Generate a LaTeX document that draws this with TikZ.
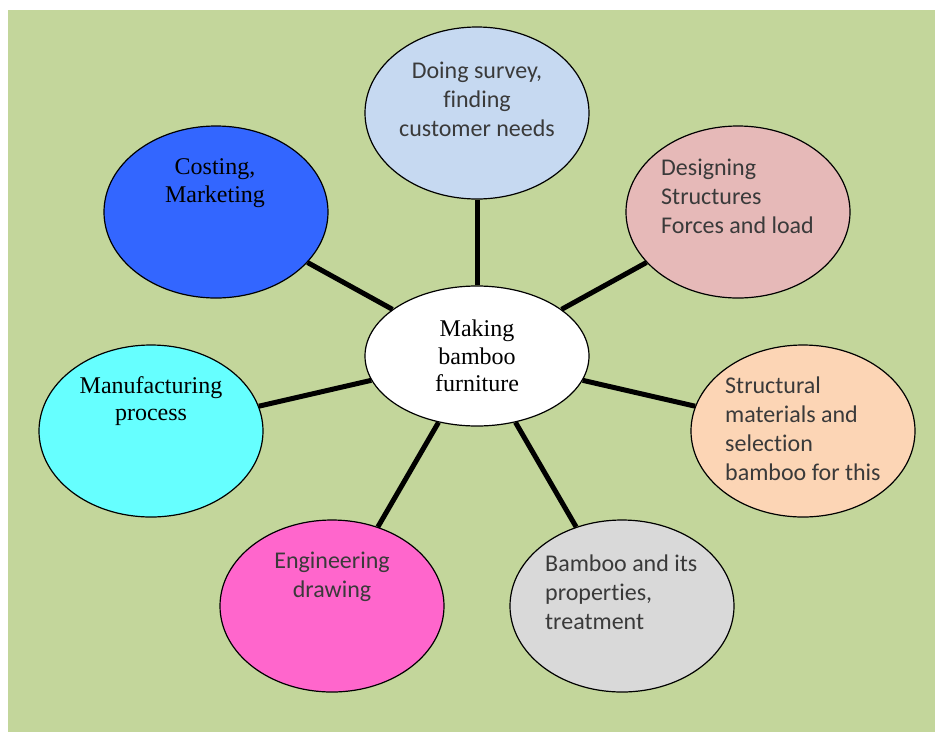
\documentclass[tikz,border=0pt]{standalone}
\usepackage{fontspec}
\setmainfont{Liberation Serif}
\newfontfamily\calibri[RawFeature=-liga]{Carlito}
\usetikzlibrary{shapes.geometric}
\definecolor{bg-green}{HTML}{C3D69B}
\definecolor{light-blue}{HTML}{C6D9F1}
\definecolor{deep-blue}{HTML}{3366FF}
\definecolor{rose}{HTML}{E6B9B8}
\definecolor{peach}{HTML}{FCD5B5}
\definecolor{light-gray}{HTML}{D9D9D9}
\definecolor{pink}{HTML}{FF66CC}
\definecolor{aqua}{HTML}{66FFFF}
\definecolor{text-gray}{HTML}{3A3A3A}

\begin{document}
\begin{tikzpicture}[x=1pt, y=-1pt,
	topic/.style={draw, ellipse, line width=1.2pt, minimum width=224pt, minimum height=172pt, inner sep=0pt},
	serif text/.style={align=center, inner sep=0pt, font=\fontsize{24}{27.5}\selectfont},
	sans text/.style={inner sep=0pt, text=text-gray, font=\calibri\fontsize{24}{29}\selectfont},
	link/.style={line width=5pt}]
	\useasboundingbox (0,0) rectangle (935,732);
	\fill[bg-green] (8,10) rectangle (935,732);
	
	\node (center) at (477,356) [topic, fill=white, minimum height=140pt] {};
	\node (survey) at (477,113) [topic, fill=light-blue] {};
	\node (costing) at (216,212) [topic, fill=deep-blue] {};
	\node (design) at (738,212) [topic, fill=rose] {};
	\node (manuf) at (151,431) [topic, fill=aqua] {};
	\node (struct) at (803,431) [topic, fill=peach] {};
	\node (engin) at (332,606) [topic, fill=pink] {};
	\node (bamboo) at (622,606) [topic, fill=light-gray] {};
	
	\node (center-t) at (477,356) [serif text] {Making\\bamboo\\furniture};
	\node (survey-t) at (477,99) [sans text, align=center] {Doing survey,\\finding\\customer needs};
	\node (costing-t) at (215,183) [serif text] {Costing,\\Marketing};
	\node (design-t) at (661,196) [sans text, align=left, anchor=west] {Designing\\Structures\\Forces and load};
	\node (manuf-t) at (151,401) [serif text] {Manufacturing\\process};
	\node (struct-t) at (725,429) [sans text, align=left, anchor=west] {Structural\\materials and\\selection\\bamboo for this};
	\node (engin-t) at (332,577) [sans text, align=center] {Engineering\\drawing};
	\node (bamboo-t) at (545,592) [sans text, align=left, anchor=west] {Bamboo and its\\properties,\\treatment};
	
	\draw[link] (center) -- (survey);
	\draw[link] (center) -- (costing);
	\draw[link] (center) -- (design);
	\draw[link] (center) -- (manuf);
	\draw[link] (center) -- (struct);
	\draw[link] (center) -- (engin);
	\draw[link] (center) -- (bamboo);
	
\end{tikzpicture}
\end{document}
